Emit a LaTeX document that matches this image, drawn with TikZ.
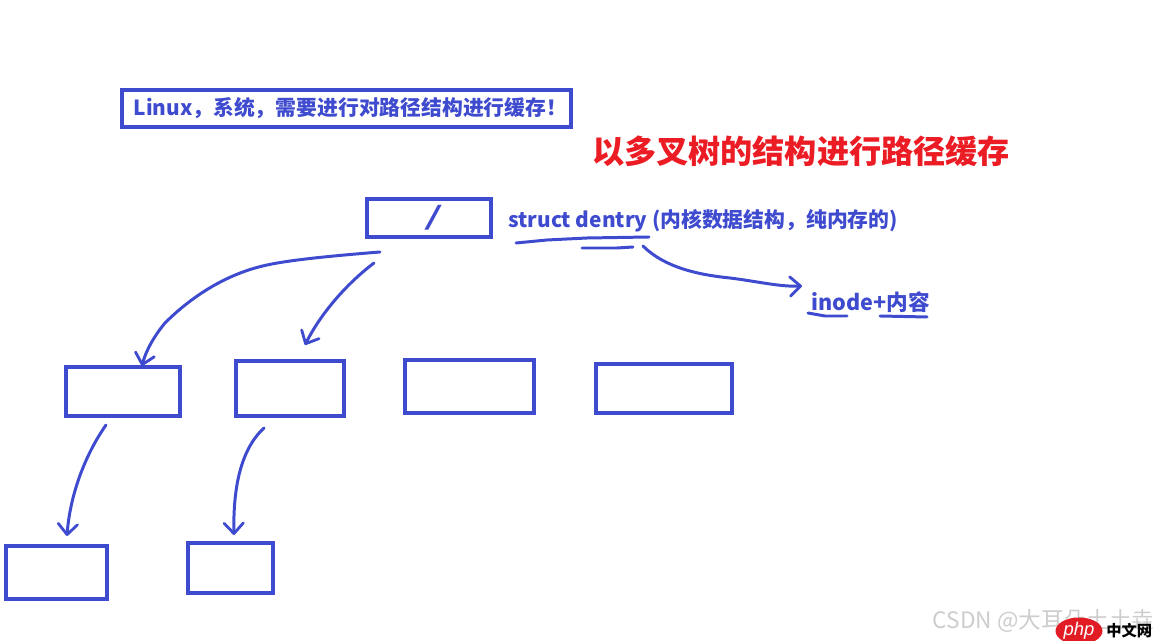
\documentclass[tikz,border=0pt]{standalone}
\usepackage{fontspec}
\setmainfont{Noto Sans CJK SC}
\setsansfont{Liberation Sans}
\newfontfamily\slashfont[FakeSlant=0.35]{Liberation Sans}
\usetikzlibrary{arrows.meta,shapes.geometric}
\definecolor{penblue}{RGB}{63,75,207}
\definecolor{penred}{RGB}{236,28,36}
\definecolor{markgrey}{RGB}{205,205,205}
\definecolor{phpred}{RGB}{226,28,36}

\begin{document}
\begin{tikzpicture}[
    x=0.02cm, y=-0.02cm,
    block/.style={rectangle, draw=penblue, line width=1.8pt, inner sep=0pt, align=center},
    stroke/.style={draw=penblue, line width=1.7pt, line cap=round, line join=round},
    curve/.style={stroke, -{Straight Barb[length=6pt,width=11pt,line width=1.6pt,round]}},
    bluetext/.style={text=penblue, font=\bfseries\fontsize{11.85}{14}\selectfont, inner sep=0pt}
]
    \useasboundingbox (0,0) rectangle (1157,641);

    % top note and title
    \node[block, minimum width=449*0.02cm, minimum height=37*0.02cm, bluetext] (note) at (346.5, 108.5) {\kern4.5pt Linux，系统，需要进行对路径结构进行缓存！};
    \node[text=penred, font=\bfseries\fontsize{18.3}{22}\selectfont, inner sep=0pt] (title) at (801, 151) {以多叉树的结构进行路径缓存};

    % root of the tree
    \node[block, minimum width=124*0.02cm, minimum height=38*0.02cm, text=penblue, font=\slashfont\bfseries\fontsize{19}{19}\selectfont] (root) at (429, 218) {/};
    \node[bluetext, anchor=west] (dentry) at (508, 221) {struct dentry (内核数据结构，纯内存的)};
    \node[bluetext, anchor=west, font=\bfseries\fontsize{12.3}{14}\selectfont] (inode) at (811, 302) {inode+内容};

    % other levels
    \foreach \name/\x/\y/\w/\h in {a/123/391.5/114/49, b/290/388.5/108/55, c/469.5/386.5/129/53, d/664/388.5/136/49, e/56.5/572.5/101/53, f/230.5/568/85/50} {
        \node[block, minimum width=\w*0.02cm, minimum height=\h*0.02cm] (\name) at (\x, \y) {};
    }

    % free ends of the strokes
    \coordinate (s1) at (380, 252);
    \coordinate (e1) at (142, 366);
    \coordinate (s2) at (374, 263);
    \coordinate (e2) at (305, 345);
    \coordinate (s3) at (106, 425);
    \coordinate (e3) at (67, 536);
    \coordinate (s4) at (264, 428);
    \coordinate (e4) at (234, 535);
    \coordinate (s5) at (643, 246);
    \coordinate (e5) at (802, 286);

    \draw[curve] (s1) .. controls (330,256) and (290,260) .. (267,265) .. controls (225,274) and (190,298) .. (165,323) .. controls (155,335) and (146,350) .. (e1);
    \draw[curve] (s2) .. controls (345,285) and (320,315) .. (e2);
    \draw[curve] (s3) .. controls (85,455) and (70,495) .. (e3);
    \draw[curve] (s4) .. controls (240,450) and (233,490) .. (e4);
    \draw[curve] (s5) .. controls (665,268) and (700,275) .. (730,278) .. controls (755,281) and (780,287) .. (e5);

    % underlines
    \draw[stroke] (516,243) -- (547,240) -- (587,238) -- (649,237);
    \draw[stroke] (582,248) -- (617,248) -- (633,247);
    \draw[stroke] (808,313) -- (825,316) -- (847,316);
    \draw[stroke] (880,316) -- (927,317);

    % corner marks
    \node[text=markgrey, font=\fontsize{12.9}{15}\selectfont, inner sep=0pt, anchor=east] (mark) at (1155, 621) {CSDN @大耳朵土土垚};
    \node[ellipse, fill=phpred, minimum width=47*0.02cm, minimum height=27*0.02cm, inner sep=0pt, text=white, font=\sffamily\itshape\fontsize{10.5}{12}\selectfont] (php) at (1079, 631) {php};
    \node[text=black, font=\bfseries\fontsize{8.7}{10}\selectfont, inner sep=0pt, anchor=west] (cn) at (1106, 631) {中文网};
\end{tikzpicture}
\end{document}
